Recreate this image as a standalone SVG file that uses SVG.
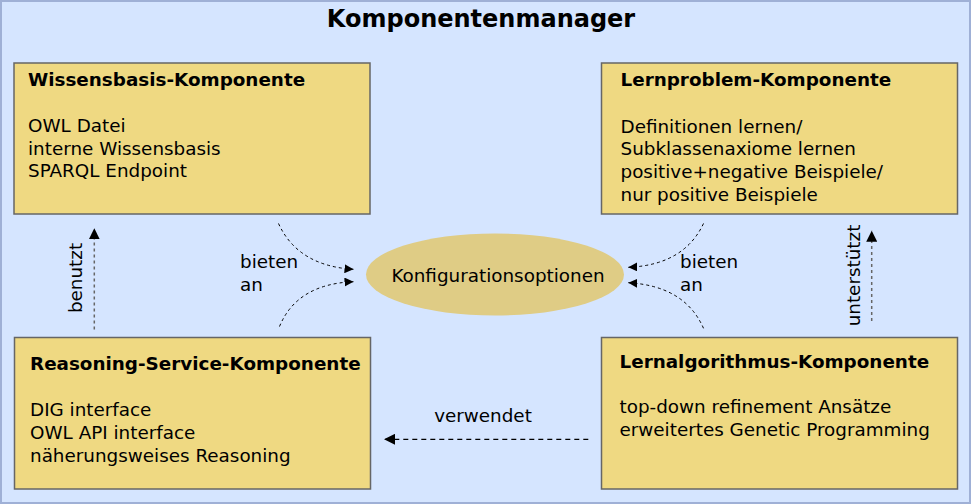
<svg xmlns="http://www.w3.org/2000/svg" width="971" height="504" viewBox="0 0 971 504">
<defs>
<style>
text{font-family:"DejaVu Sans",sans-serif;font-size:18.35px;fill:#000}
.b{font-weight:bold}
.box{fill:#efd982;stroke:#666;stroke-width:1.5}
.cv{fill:none;stroke:#000;stroke-width:1;stroke-dasharray:3,3}
.vt{fill:none;stroke:#666;stroke-width:1.5;stroke-dasharray:3,3}
.hz{fill:none;stroke:#000;stroke-width:1.2;stroke-dasharray:5,4}
</style>
<marker id="ah" viewBox="0 0 10 10" refX="10" refY="5" markerWidth="9" markerHeight="9" markerUnits="userSpaceOnUse" orient="auto">
<path d="M0,0 L10,5 L0,10 z" fill="#000"/>
</marker>
<marker id="ah2" viewBox="0 0 10 10" refX="10" refY="5" markerWidth="11" markerHeight="11" markerUnits="userSpaceOnUse" orient="auto">
<path d="M0,0 L10,5 L0,10 z" fill="#000"/>
</marker>
</defs>
<g id="frame">
<rect x="1" y="1" width="969" height="502" fill="#d5e5ff" stroke="#9fb0d6" stroke-width="2"/>
<text class="b" x="481" y="27" text-anchor="middle" style="font-size:24px">Komponentenmanager</text>
</g>
<g id="wissensbasis">
<rect class="box" x="14" y="63" width="356" height="151"/>
<text class="b" x="28" y="86">Wissensbasis-Komponente</text>
<text x="28" y="132">OWL Datei</text>
<text x="28" y="154.7">interne Wissensbasis</text>
<text x="28" y="177.4">SPARQL Endpoint</text>
</g>
<g id="lernproblem">
<rect class="box" x="601.5" y="63" width="356" height="151"/>
<text class="b" x="620.5" y="86">Lernproblem-Komponente</text>
<text x="620.5" y="132.7">Definitionen lernen/</text>
<text x="620.5" y="155.4">Subklassenaxiome lernen</text>
<text x="620.5" y="178.1">positive+negative Beispiele/</text>
<text x="620.5" y="200.8">nur positive Beispiele</text>
</g>
<g id="reasoning">
<rect class="box" x="14.5" y="337.5" width="356" height="151.5"/>
<text class="b" x="30" y="370">Reasoning-Service-Komponente</text>
<text x="30" y="416">DIG interface</text>
<text x="30" y="439">OWL API interface</text>
<text x="30" y="462.3">näherungsweises Reasoning</text>
</g>
<g id="lernalgorithmus">
<rect class="box" x="601.5" y="337.5" width="356" height="151.5"/>
<text class="b" x="619.5" y="368.3">Lernalgorithmus-Komponente</text>
<text x="619.5" y="412.7">top-down refinement Ansätze</text>
<text x="619.5" y="436.4">erweitertes Genetic Programming</text>
</g>
<g id="konfigurationsoptionen">
<ellipse cx="495" cy="274.5" rx="129" ry="41" fill="#dfcc85"/>
<text x="498" y="281.5" text-anchor="middle">Konfigurationsoptionen</text>
</g>
<g id="connectors">
<path class="cv" d="M278.5,223.5 Q298,266 353.5,269.3" marker-end="url(#ah)"/>
<path class="cv" d="M279.5,326.5 Q297,284 353.5,281.7" marker-end="url(#ah)"/>
<path class="cv" d="M703.5,223.5 Q684,265 628.3,267.3" marker-end="url(#ah)"/>
<path class="cv" d="M703.5,328.3 Q685,286 628.3,282.7" marker-end="url(#ah)"/>
<text x="240" y="268.3">bieten</text>
<text x="240" y="291">an</text>
<text x="680" y="268.3">bieten</text>
<text x="680" y="291">an</text>
<path class="vt" d="M94.3,329.5 L94.3,228.3" marker-end="url(#ah2)"/>
<text transform="translate(82,278) rotate(-90)" text-anchor="middle">benutzt</text>
<path class="vt" d="M871.7,321 L871.7,230.7" marker-end="url(#ah2)"/>
<text transform="translate(859.5,275.5) rotate(-90)" text-anchor="middle">unterstützt</text>
<path class="hz" d="M588.3,439.3 L384,439.3" marker-end="url(#ah2)"/>
<text x="483" y="421.7" text-anchor="middle">verwendet</text>
</g>
</svg>
